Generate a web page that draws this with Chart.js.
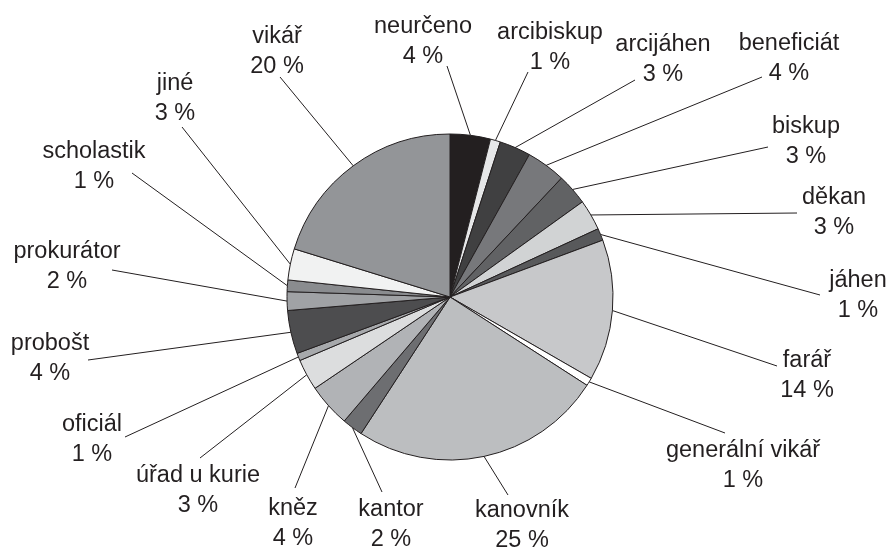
<!DOCTYPE html>
<html lang="cs">
<head>
  <meta charset="UTF-8">
  <title>Podíl funkcí</title>
  <script src="https://cdn.jsdelivr.net/npm/chart.js"></script>
  <style>
    body { margin: 0; background: #fff; }
    #wrap { width: 891px; height: 549px; }
  </style>
</head>
<body>
<div id="wrap"><canvas id="pieChart"></canvas></div>

<script>
  // slices, clockwise from 12 o'clock
  const categories = ['neurčeno', 'arcibiskup', 'arcijáhen', 'beneficiát', 'biskup', 'děkan', 'jáhen',
    'farář', 'generální vikář', 'kanovník', 'kantor', 'kněz', 'úřad u kurie', 'oficiál',
    'probošt', 'prokurátor', 'scholastik', 'jiné', 'vikář'];
  const shares = [4.0, 1.0, 3.1, 3.9, 3.1, 3.05, 1.2, 14.0, 0.8, 25.1, 2.05, 4.3, 3.1, 0.75,
    4.3, 1.85, 1.15, 3.1, 20.25];
  const shades = ['#231f20', '#e6e7e8', '#404041', '#77787b', '#616264', '#d1d3d4', '#58595b',
    '#c7c8ca', '#ffffff', '#bcbec0', '#6d6e71', '#b1b3b6', '#dcddde', '#a7a9ac',
    '#4d4d4f', '#a0a2a5', '#8a8c8f', '#f1f2f2', '#939598'];

  // label placement relative to pie centre: [text x, baseline y, leader end x, leader end y]
  const labelSpots = [
    [-27, -264, -3, -231], [100, -258, 78, -225], [213, -246, 185, -217], [339, -247, 312, -220],
    [356, -164, 318, -150], [384, -93, 347, -84], [408, -10, 370, -2], [357, 70, 327, 69],
    [293, 160, 275, 136], [72, 220, 58, 198], [-59, 219, -68, 195], [-157, 218, -155, 191],
    [-252, 185, -250, 161], [-358, 134, -325, 140], [-400, 53, -362, 63], [-383, -39, -338, -27],
    [-356, -139, -318, -124], [-275, -207, -268, -170], [-173, -254, -170, -220]
  ];

  const ink = '#231f20';

  const outerLabels = {
    id: 'outerLabels',
    afterDatasetsDraw(chart) {
      const ctx = chart.ctx;
      const arcs = chart.getDatasetMeta(0).data;
      const total = shares.reduce((a, b) => a + b, 0);
      ctx.save();
      ctx.strokeStyle = ink;
      ctx.lineWidth = 1;
      ctx.fillStyle = ink;
      ctx.font = '23.5px "Liberation Sans", Arial, sans-serif';
      ctx.textAlign = 'center';
      ctx.textBaseline = 'alphabetic';
      arcs.forEach((arc, i) => {
        const mid = (arc.startAngle + arc.endAngle) / 2;
        const rx = arc.x + Math.cos(mid) * arc.outerRadius;
        const ry = arc.y + Math.sin(mid) * arc.outerRadius;
        const s = labelSpots[i];
        ctx.beginPath();
        ctx.moveTo(rx, ry);
        ctx.lineTo(arc.x + s[2], arc.y + s[3]);
        ctx.stroke();
        const pct = Math.round(shares[i] / total * 100) + ' %';
        ctx.fillText(categories[i], arc.x + s[0], arc.y + s[1]);
        ctx.fillText(pct, arc.x + s[0], arc.y + s[1] + 30);
      });
      ctx.restore();
    }
  };

  const ctx = document.getElementById('pieChart').getContext('2d');

  new Chart(ctx, {
    type: 'pie',
    data: {
      labels: categories,
      datasets: [{
        data: shares,
        backgroundColor: shades,
        borderColor: ink,
        borderWidth: 1,
        radius: 163
      }]
    },
    options: {
      responsive: true,
      maintainAspectRatio: false,
      animation: false,
      layout: {
        padding: { left: 100, right: 91, top: 100, bottom: 55 }
      },
      plugins: {
        legend: { display: false },
        tooltip: { enabled: false }
      }
    },
    plugins: [outerLabels]
  });
</script>
</body>
</html>
